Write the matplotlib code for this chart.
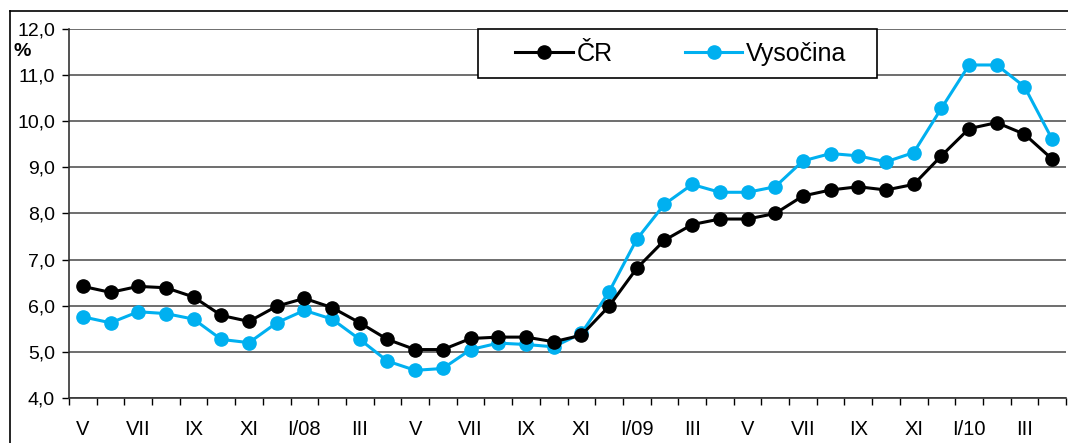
import matplotlib.pyplot as plt
from matplotlib.patches import Rectangle
from matplotlib.lines import Line2D

plt.rcParams['font.family'] = ['Liberation Sans', 'DejaVu Sans']

# mesice V/2007 - IV/2010
mesice = ['V', '', 'VII', '', 'IX', '', 'XI', '', 'I/08', '', 'III', '',
          'V', '', 'VII', '', 'IX', '', 'XI', '', 'I/09', '', 'III', '',
          'V', '', 'VII', '', 'IX', '', 'XI', '', 'I/10', '', 'III', '']

# miry nezamestnanosti (%)
cr = [6.42, 6.29, 6.42, 6.39, 6.19, 5.79, 5.66, 5.99, 6.16, 5.96, 5.63, 5.27,
      5.05, 5.05, 5.29, 5.32, 5.32, 5.22, 5.36, 5.99, 6.81, 7.42, 7.76, 7.88,
      7.88, 8.00, 8.38, 8.51, 8.58, 8.51, 8.63, 9.25, 9.84, 9.97, 9.72, 9.18]
vysocina = [5.76, 5.63, 5.87, 5.83, 5.71, 5.27, 5.20, 5.63, 5.90, 5.71, 5.27, 4.80,
            4.60, 4.64, 5.05, 5.19, 5.16, 5.11, 5.40, 6.30, 7.44, 8.20, 8.63, 8.46,
            8.46, 8.58, 9.14, 9.30, 9.25, 9.12, 9.32, 10.28, 11.22, 11.22, 10.75, 9.61]

W, H = 1068, 443
fig = plt.figure(figsize=(W / 100, H / 100), dpi=100)
ax = fig.add_axes([69 / W, 1 - 398 / H, (1066 - 69) / W, (398 - 29) / H])

x = list(range(len(mesice)))
modra = '#00b0f0'
ax.plot(x, cr, color='black', lw=2.2, marker='o', ms=9.5, zorder=4)
ax.plot(x, vysocina, color=modra, lw=2.2, marker='o', ms=9.5, zorder=3)

ax.set_xlim(-0.5, len(mesice) - 0.5)
ax.set_ylim(4, 12)
ax.set_yticks(range(4, 13))
ax.set_yticklabels([f'{v},0' for v in range(4, 13)], fontsize=14)
ax.set_xticks(x)
ax.set_xticklabels(mesice, fontsize=14.5)
ax.set_xticks([i - 0.5 for i in range(len(mesice) + 1)], minor=True)
ax.tick_params(axis='x', which='major', length=0, pad=16)
ax.tick_params(axis='x', which='minor', length=5, width=1, direction='out')
ax.tick_params(axis='y', length=5, width=1, direction='out', pad=5)
ax.grid(axis='y', color='#555555', lw=1.2)
ax.set_axisbelow(True)
for s in ['top', 'right']:
    ax.spines[s].set_visible(False)
ax.spines['left'].set_linewidth(1.2)
ax.spines['bottom'].set_linewidth(1.2)
ax.spines['left'].set_color('#333333')
ax.spines['bottom'].set_color('#333333')

fig.text(14 / W, 1 - 52 / H, '%', fontsize=14, fontweight='bold', va='center')

# ramecek kolem grafu
fig.add_artist(Line2D([10 / W, 10 / W], [0, 1 - 11 / H], transform=fig.transFigure,
                      color='black', lw=1.2))
fig.add_artist(Line2D([10 / W, 1], [1 - 11 / H, 1 - 11 / H], transform=fig.transFigure,
                      color='black', lw=1.2))

# legenda
fig.add_artist(Rectangle((478 / W, 1 - 78 / H), (877 - 478) / W, 49 / H,
                         transform=fig.transFigure, facecolor='white',
                         edgecolor='black', lw=1.2, zorder=5))
h1 = Line2D([], [], color='black', lw=2.2, marker='o', ms=9.5)
h2 = Line2D([], [], color=modra, lw=2.2, marker='o', ms=9.5)
leg = fig.legend([h1, h2], ['ČR', 'Vysočina'], ncol=2, frameon=False, fontsize=18,
                 loc='center left', bbox_to_anchor=(515 / W, 1 - 54 / H),
                 handlelength=2.3, handletextpad=0.15, columnspacing=2.9,
                 borderaxespad=0, borderpad=0)
leg.set_zorder(6)

fig.savefig('out.png', dpi=100)
